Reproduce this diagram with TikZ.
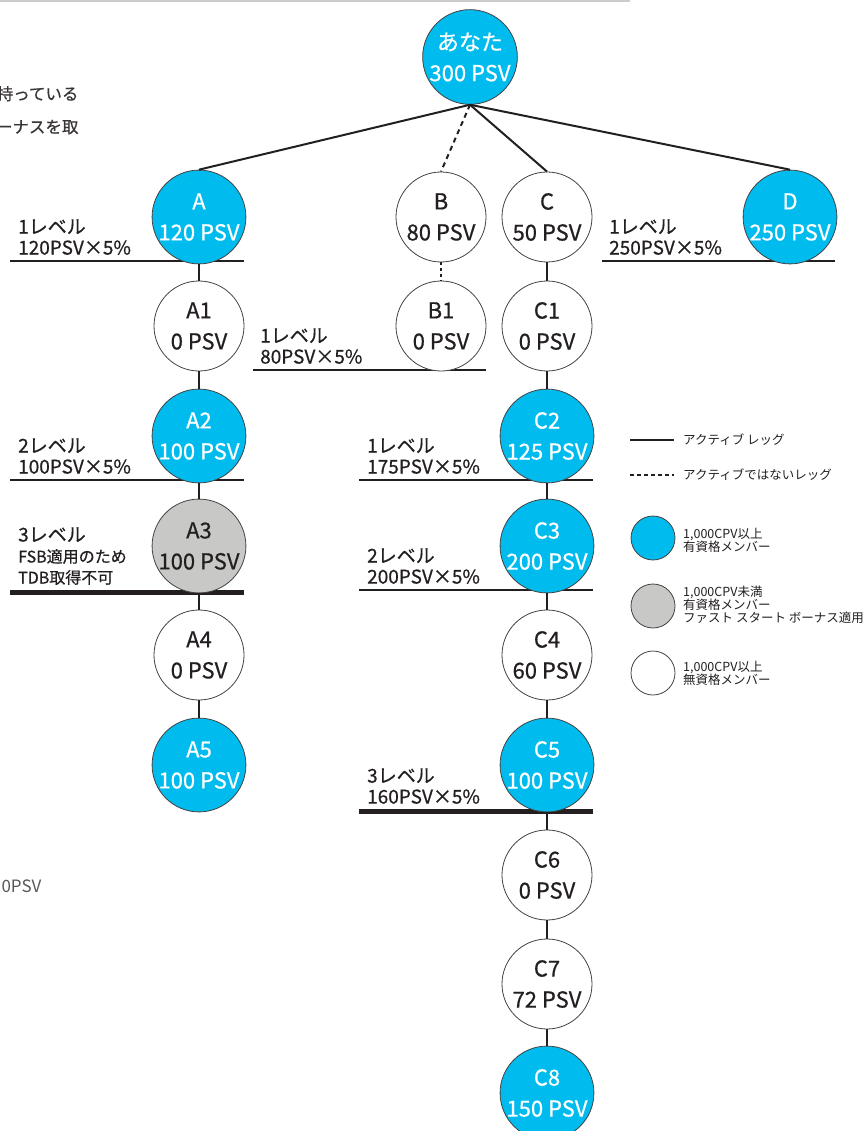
\documentclass[tikz,border=0pt]{standalone}
\usepackage{fontspec}
\setmainfont{Noto Sans CJK JP}
\newfontfamily\medfont{Noto Sans CJK JP}[FakeBold=0.6]
\definecolor{psvblue}{HTML}{00BCEE}
\definecolor{fsbgray}{HTML}{C8C9C7}
\definecolor{ink}{HTML}{231F20}
\tikzset{
  mem/.style = {circle, draw = ink!85, line width = 0.8pt, minimum size = 90pt, inner sep = 0pt,
    align = center, font = \medfont\fontsize{22}{31}\selectfont},
  act/.style = {mem, fill = psvblue, text = white},
  fsb/.style = {mem, fill = fsbgray, text = ink},
  non/.style = {mem, fill = white, text = ink},
  leg/.style = {circle, draw = ink!85, line width = 0.8pt, minimum size = 44pt, inner sep = 0pt},
  legtext/.style = {anchor = west, align = left, inner sep = 0pt, text = ink, font = \fontsize{12.5}{13}\selectfont},
  lvl/.style = {anchor = south west, align = left, inner sep = 0pt, text = ink, font = \medfont\fontsize{19}{21}\selectfont},
  leg line/.style = {draw = ink, line width = 2pt},
  bar/.style = {draw = ink, line width = 2pt},
  heavy/.style = {draw = ink, line width = 5pt}
}
\begin{document}
\begin{tikzpicture}[x = 1pt, y = -1pt]
\useasboundingbox (0,0) rectangle (867,1131);
\draw[gray!40, line width = 2pt] (0,1) -- (630,1);
\node[anchor = base east, text = ink!90, font = \medfont\fontsize{16.5}{18}\selectfont] (cut1) at (82,100) {持っている};
\node[anchor = base east, text = ink!90, font = \medfont\fontsize{16.5}{18}\selectfont] (cut2) at (82,133) {ーナスを取};
\node[anchor = base east, text = ink!75, font = \fontsize{17}{18}\selectfont] (cut3) at (45,892) {0PSV};

\draw[bar] (10,261) -- (244,261);
\draw[bar] (602,261) -- (835,261);
\draw[bar] (253,370) -- (486,370);
\draw[bar] (10,480) -- (244,480);
\draw[bar] (359,480) -- (593,480);
\draw[heavy] (10,592) -- (244,592);
\draw[bar] (359,590) -- (593,590);
\draw[heavy] (359,811) -- (593,811);

\node[lvl] (lA) at (18,255) {1レベル\\120PSV×5\%};
\node[lvl] (lD) at (609,255) {1レベル\\250PSV×5\%};
\node[lvl] (lB1) at (260,364) {1レベル\\80PSV×5\%};
\node[lvl] (lA2) at (18,474) {2レベル\\100PSV×5\%};
\node[lvl] (lC2) at (367,474) {1レベル\\175PSV×5\%};
\node[lvl] (lA3) at (18,585) {3レベル\\\fontsize{16}{17}\selectfont FSB適用のため\\\fontsize{16}{17}\selectfont TDB取得不可};
\node[lvl] (lC3) at (367,584) {2レベル\\200PSV×5\%};
\node[lvl] (lC5) at (367,804) {3レベル\\160PSV×5\%};

\node[act] (you) at (470,57) {あなた\\300 PSV};
\node[act] (A) at (199,217) {A\\120 PSV};
\node[non] (B) at (441,217) {B\\80 PSV};
\node[non] (C) at (547,217) {C\\50 PSV};
\node[act] (D) at (790,217) {D\\250 PSV};
\node[non] (A1) at (199,326) {A1\\0 PSV};
\node[act] (A2) at (199,436) {A2\\100 PSV};
\node[fsb] (A3) at (199,546) {A3\\100 PSV};
\node[non] (A4) at (199,655) {A4\\0 PSV};
\node[act] (A5) at (199,765) {A5\\100 PSV};
\node[non] (B1) at (441,326) {B1\\0 PSV};
\node[non] (C1) at (547,326) {C1\\0 PSV};
\node[act] (C2) at (547,436) {C2\\125 PSV};
\node[act] (C3) at (547,546) {C3\\200 PSV};
\node[non] (C4) at (547,655) {C4\\60 PSV};
\node[act] (C5) at (547,765) {C5\\100 PSV};
\node[non] (C6) at (547,875) {C6\\0 PSV};
\node[non] (C7) at (547,984) {C7\\72 PSV};
\node[act] (C8) at (547,1093) {C8\\150 PSV};

\draw[bar] (you.south) -- (A.north);
\draw[bar, dash pattern = on 5pt off 4pt] (you.south) -- (B.north);
\draw[bar] (you.south) -- (C.north);
\draw[bar] (you.south) -- (D.north);
\draw[bar] (A) -- (A1);
\draw[bar] (A1) -- (A2);
\draw[bar] (A2) -- (A3);
\draw[bar] (A3) -- (A4);
\draw[bar] (A4) -- (A5);
\draw[bar, dash pattern = on 3pt off 3pt] (B) -- (B1);
\draw[bar] (C) -- (C1);
\draw[bar] (C1) -- (C2);
\draw[bar] (C2) -- (C3);
\draw[bar] (C3) -- (C4);
\draw[bar] (C4) -- (C5);
\draw[bar] (C5) -- (C6);
\draw[bar] (C6) -- (C7);
\draw[bar] (C7) -- (C8);

\coordinate (s1) at (630,440);
\coordinate (s2) at (674,440);
\coordinate (d1) at (630,475);
\coordinate (d2) at (674,475);
\draw[leg line] (s1) -- (s2);
\draw[leg line, dash pattern = on 4pt off 3pt] (d1) -- (d2);
\node[legtext] (tact) at (683,440) {アクティブ レッグ};
\node[legtext] (tina) at (683,475) {アクティブではないレッグ};
\node[leg, fill = psvblue] (kq) at (653,538) {};
\node[leg, fill = fsbgray] (kf) at (653,606) {};
\node[leg, fill = white] (kn) at (653,673) {};
\node[legtext] (tq) at (683,540) {1,000CPV以上\\有資格メンバー};
\node[legtext] (tf) at (683,605) {1,000CPV未満\\有資格メンバー\\ファスト スタート ボーナス適用};
\node[legtext] (tn) at (683,673) {1,000CPV以上\\無資格メンバー};
\end{tikzpicture}
\end{document}
